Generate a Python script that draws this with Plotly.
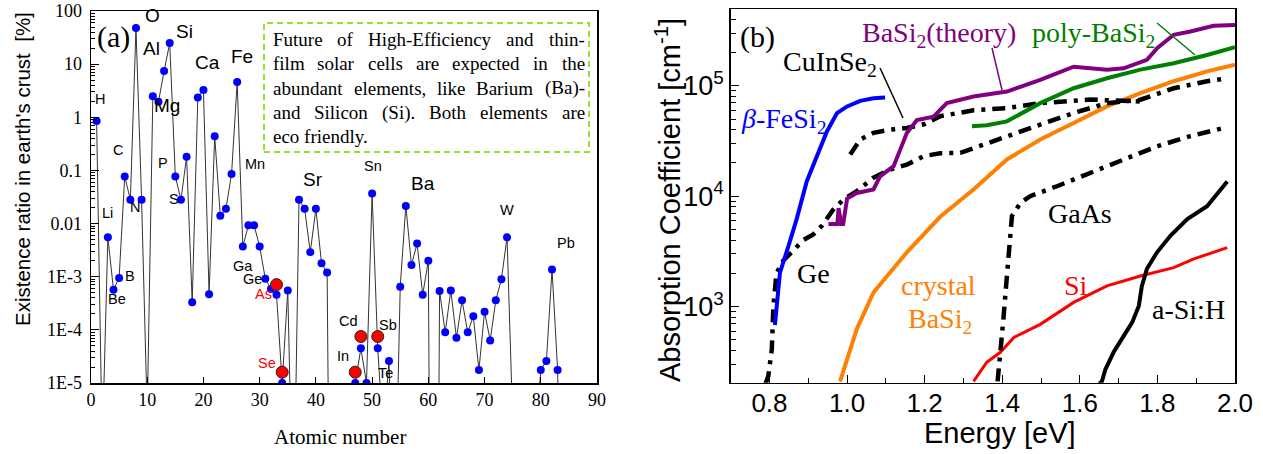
import plotly.graph_objects as go

W, H = 1263, 454
SERIF = "Liberation Serif"
SANS = "Liberation Sans"

# ---------------- Panel (a): crustal abundance ----------------
atomic_number = list(range(1, 85))
abundance = [
    0.85, 6e-7, 0.0055, 5.7e-4, 9.5e-4, 0.077, 0.028, 48, 0.028, 2.5e-6,       # 1-10
    2.5, 1.95, 7.4, 25, 0.077, 0.028, 0.18, 3.3e-4, 2.35, 3.25,                 # 11-20
    4.7e-4, 0.44, 0.014, 0.019, 0.086, 4.6, 0.0037, 0.0093, 0.0093, 0.0037,     # 21-30
    9.2e-4, 5.9e-4, 4.6e-4, 1.0e-5, 5.5e-4, 1e-8, 0.028, 0.019, 0.0029, 0.019,  # 31-40
    0.0018, 0.0012, 1e-15, 1e-7, 1e-7, 1e-6, 1.0e-5, 4.5e-5, 1.0e-5, 0.037,     # 41-50
    4.5e-5, 1e-6, 2.6e-5, 1e-8, 6.5e-4, 0.0215, 0.00166, 0.0042, 4.6e-4, 0.002, # 51-60
    1e-20, 5.4e-4, 9e-5, 5.5e-4, 7.1e-5, 3.6e-4, 9e-5, 1.8e-4, 1.76e-5, 2.2e-4, # 61-70
    6.3e-5, 3.6e-4, 9e-4, 0.0055, 2e-6, 1e-7, 1e-7, 1e-6, 5e-7, 1.76e-5,        # 71-80
    2.6e-5, 0.00136, 1.76e-5, 1e-14,                                            # 81-84
]
toxic_z = [33, 34, 47, 48, 51]
toxic_val = [7.1e-4, 1.6e-5, 1.6e-5, 7.5e-5, 7.5e-5]

# ---------------- Panel (b): absorption coefficients ----------------
fesi2_E = [0.814, 0.827, 0.849, 0.870, 0.896, 0.922, 0.948, 0.974, 1.000, 1.034, 1.068, 1.098]
fesi2_a = [680, 2030, 3550, 6200, 13600, 23000, 38600, 56600, 65000, 73000, 77000, 78500]

ge_E = [0.790, 0.797, 0.806, 0.810, 0.818, 0.835, 0.857, 0.887, 0.913, 0.935, 0.965, 0.990,
        1.025, 1.068, 1.111, 1.154, 1.197, 1.240, 1.292, 1.352, 1.430, 1.498, 1.584, 1.670,
        1.756, 1.842, 1.928, 1.980]
ge_a = [200, 235, 410, 1000, 2000, 2600, 3100, 4000, 4500, 5400, 7600, 9300,
        11100, 14700, 17400, 19300, 23000, 24500, 24700, 29300, 37500, 44500, 56700, 69600,
        74800, 95000, 110000, 117000]

cis_E = [1.008, 1.034, 1.068, 1.110, 1.154, 1.200, 1.240, 1.326, 1.412, 1.498, 1.627, 1.756]
cis_a = [23800, 32600, 37500, 40000, 41500, 45000, 53000, 60000, 62800, 69700, 75000, 72000]

gaas_E = [1.388, 1.395, 1.403, 1.410, 1.416, 1.420, 1.425, 1.447, 1.472, 1.541, 1.627, 1.713,
          1.799, 1.885, 1.971]
gaas_a = [210, 440, 770, 1550, 2700, 5000, 6600, 8700, 10000, 12300, 16200, 21500,
          28300, 35000, 41500]

asih_E = [1.650, 1.657, 1.666, 1.687, 1.708, 1.735, 1.752, 1.760, 1.773, 1.799, 1.834, 1.877,
          1.928, 1.980]
asih_a = [200, 210, 270, 385, 507, 718, 1014, 1540, 2200, 3100, 4400, 6200, 8100, 13600]

si_E = [1.326, 1.360, 1.395, 1.430, 1.498, 1.584, 1.670, 1.756, 1.842, 1.894, 1.980]
si_a = [210, 313, 385, 525, 690, 1090, 1540, 1890, 2250, 2700, 3420]

cbasi2_E = [0.982, 1.025, 1.068, 1.154, 1.240, 1.326, 1.412, 1.498, 1.584, 1.670, 1.756, 1.842,
            1.928, 2.000]
cbasi2_a = [210, 625, 1340, 3100, 6500, 11500, 21500, 32600, 46000, 65000, 86000, 110000,
            135000, 155000]

pbasi2_E = [1.322, 1.360, 1.412, 1.455, 1.498, 1.584, 1.670, 1.756, 1.842, 1.928, 2.000]
pbasi2_a = [43000, 44000, 47600, 57000, 69600, 95000, 117000, 140000, 160000, 190000, 224000]

tbasi2_E = [0.952, 0.975, 0.978, 0.985, 0.990, 1.000, 1.025, 1.068, 1.085, 1.120, 1.137, 1.154,
            1.180, 1.223, 1.257, 1.292, 1.326, 1.412, 1.498, 1.584, 1.627, 1.670, 1.713, 1.773,
            1.800, 1.842, 1.885, 1.945, 2.000]
tbasi2_a = [5600, 5600, 7800, 5600, 5600, 9500, 10700, 11500, 15100, 18700, 26400, 37300,
            49000, 52600, 69800, 74800, 80000, 88600, 113000, 149000, 145000, 140000, 144000, 172000,
            220000, 290000, 310000, 350000, 355000]

# ---------------- helpers (target-pixel -> paper) ----------------
def px(x):
    return x / W

def py(y):
    return 1 - y / H

annotations = []

def label(text, x, y, size, color="black", family=SANS, xanchor="center", angle=0):
    annotations.append(dict(text=text, x=px(x), y=py(y), xref="paper", yref="paper",
                            showarrow=False, xanchor=xanchor, yanchor="middle",
                            textangle=angle, borderpad=0, borderwidth=0,
                            font=dict(family=family, size=size, color=color)))

fig = go.Figure()

# panel (a)
fig.add_trace(go.Scatter(x=atomic_number, y=abundance, mode="lines+markers",
                         line=dict(color="#333333", width=1),
                         marker=dict(color="#0000ff", size=8, line=dict(width=0)),
                         xaxis="x", yaxis="y", showlegend=False, hoverinfo="skip"))
fig.add_trace(go.Scatter(x=toxic_z, y=toxic_val, mode="markers",
                         marker=dict(color="#ff0000", size=12, line=dict(color="#222222", width=1)),
                         xaxis="x", yaxis="y", showlegend=False, hoverinfo="skip"))

# panel (b)
DD = "13px,7px,4px,7px"
curves = [
    (cbasi2_E, cbasi2_a, "#ff8000", 4, "solid"),
    (si_E, si_a, "#ff0000", 3, "solid"),
    (asih_E, asih_a, "#000000", 4, "solid"),
    (gaas_E, gaas_a, "#000000", 4.5, DD),
    (ge_E, ge_a, "#000000", 4.5, DD),
    (cis_E, cis_a, "#000000", 4.5, DD),
    (fesi2_E, fesi2_a, "#0000ff", 4, "solid"),
    (pbasi2_E, pbasi2_a, "#008000", 4, "solid"),
    (tbasi2_E, tbasi2_a, "#800080", 4, "solid"),
]
for e, a, c, w, d in curves:
    fig.add_trace(go.Scatter(x=e, y=a, mode="lines", line=dict(color=c, width=w, dash=d),
                             xaxis="x2", yaxis="y2", showlegend=False, hoverinfo="skip"))

# ---------------- axes ----------------
minor_a = [m * 10 ** e for e in range(-5, 2) for m in range(2, 10)]
minor_b = [m * 10 ** e for e in range(2, 6) for m in range(2, 10)]
minor_bx = [0.7, 0.9, 1.1, 1.3, 1.5, 1.7, 1.9]

common = dict(showline=True, linecolor="black", linewidth=1.5, mirror=True, automargin=False,
              showgrid=False, zeroline=False, ticks="inside", tickcolor="black",
              ticklabeloverflow="allow")

fig.update_layout(
    width=W, height=H, margin=dict(l=0, r=0, t=0, b=0, pad=0, autoexpand=False),
    paper_bgcolor="white", plot_bgcolor="white", hovermode=False,
    xaxis=dict(domain=[px(91), px(597)], range=[0, 90], tickmode="array",
               tickvals=list(range(0, 91, 10)), ticklen=6, tickwidth=1,
               tickfont=dict(family=SERIF, size=18, color="black"), anchor="y", **common),
    yaxis=dict(domain=[py(383), py(11)], type="log", range=[-5, 2], tickmode="array",
               tickvals=[1e-5, 1e-4, 1e-3, 0.01, 0.1, 1, 10, 100],
               ticktext=["1E-5", "1E-4", "1E-3", "0.01", "0.1", "1", "10", "100"],
               ticklen=8, tickwidth=1, ticklabelstandoff=4,
               minor=dict(tickmode="array", tickvals=minor_a, ticks="inside", ticklen=4,
                          tickwidth=1, tickcolor="black"),
               tickfont=dict(family=SERIF, size=18, color="black"), anchor="x", **common),
    xaxis2=dict(domain=[px(730.7), px(1235)], range=[0.7, 2.0], tickmode="array",
                tickvals=[0.8, 1.0, 1.2, 1.4, 1.6, 1.8, 2.0],
                ticktext=["0.8", "1.0", "1.2", "1.4", "1.6", "1.8", "2.0"],
                ticklen=8, tickwidth=1, ticklabelstandoff=-3,
                minor=dict(tickmode="array", tickvals=minor_bx, ticks="inside", ticklen=5,
                           tickwidth=1, tickcolor="black"),
                tickfont=dict(family=SANS, size=26, color="black"), anchor="y2", **common),
    yaxis2=dict(domain=[py(382.7), py(9.3)], type="log", range=[2.31, 5.693], tickmode="array",
                tickvals=[1e3, 1e4, 1e5],
                ticktext=["10<sup>3</sup>", "10<sup>4</sup>", "10<sup>5</sup>"],
                ticklen=8, tickwidth=1,
                minor=dict(tickmode="array", tickvals=minor_b, ticks="inside", ticklen=5,
                           tickwidth=1, tickcolor="black"),
                tickfont=dict(family=SANS, size=27, color="black"), anchor="x2", **common),
)

# ---------------- labels, panel (a) ----------------
label("Existence ratio in earth's crust  [%]", 22, 169, 20.5, angle=-90)
label("Atomic number", 340, 437, 21, family=SERIF)
label("(a)", 113, 37, 30, family=SERIF)

big = [("O", 152.7, 15), ("Al", 151.7, 48), ("Si", 184.3, 31.7), ("Mg", 166.7, 105),
       ("Ca", 207, 63), ("Fe", 241.7, 56.7), ("Sr", 313.3, 179), ("Ba", 422.7, 183.3)]
for t, x, y in big:
    label(t, x, y, 19)
small = [("H", 100, 99), ("C", 118.3, 150), ("P", 163.3, 163), ("Mn", 255, 164),
         ("Sn", 373.3, 165.7), ("W", 507.3, 210), ("Pb", 565.7, 243.3), ("Li", 107.3, 213.3),
         ("N", 135, 206.7), ("S", 174, 199), ("Be", 116.7, 299.3), ("B", 130, 276),
         ("Ga", 243.3, 266), ("Ge", 252.3, 279.3), ("Cd", 348.3, 321), ("In", 343.3, 356),
         ("Sb", 387.7, 325), ("Te", 385, 372.7)]
for t, x, y in small:
    label(t, x, y, 14.5)
label("As", 263.3, 294.3, 14.5, color="#ff0000")
label("Se", 266.7, 362.7, 14.5, color="#ff0000")

# text box (justified by word placement)
box_lines = [
    (39.3, [("Future", 272.7, "left"), ("of", 345.1, "center"), ("High-Efficiency", 429.7, "center"),
            ("and", 520.0, "center"), ("thin-", 584.5, "right")]),
    (64.0, [("film", 272.7, "left"), ("solar", 336.2, "center"), ("cells", 385.3, "center"),
            ("are", 427.6, "center"), ("expected", 486.3, "center"), ("in", 540.7, "center"),
            ("the", 584.5, "right")]),
    (88.3, [("abundant", 272.7, "left"), ("elements,", 389.6, "center"), ("like", 451.1, "center"),
            ("Barium", 504.9, "center"), ("(Ba)-", 584.5, "right")]),
    (112.7, [("and", 272.7, "left"), ("Silicon", 340.9, "center"), ("(Si).", 398.4, "center"),
             ("Both", 447.5, "center"), ("elements", 513.7, "center"), ("are", 584.5, "right")]),
    (136.7, [("eco friendly.", 272.7, "left")]),
]
for y, words in box_lines:
    for t, x, anc in words:
        label(t, x, y, 19, family=SERIF, xanchor=anc)

shapes = [dict(type="rect", xref="paper", yref="paper", x0=px(264), x1=px(589), y0=py(152),
               y1=py(23), line=dict(color="#99dd33", width=2, dash="6px,4px"))]

# ---------------- labels, panel (b) ----------------
label("Absorption Coefficient [cm<sup>-1</sup>]", 668, 200, 29, angle=-90)
label("Energy [eV]", 1000, 433, 29)
label("(b)", 757, 37, 30, family=SERIF)
label("<i>β</i>-FeSi<sub>2</sub>", 783, 120, 28, color="#0000ff", family=SERIF)
label("CuInSe<sub>2</sub>", 830, 64, 28, family=SERIF)
label("BaSi<sub>2</sub>(theory)", 939, 34, 28, color="#800080", family=SERIF)
label("poly-BaSi<sub>2</sub>", 1093, 34, 28, color="#008000", family=SERIF)
label("GaAs", 1080, 213, 28, family=SERIF)
label("Ge", 813, 273, 28, family=SERIF)
label("crystal", 938, 285, 28, color="#ff8000", family=SERIF)
label("BaSi<sub>2</sub>", 940, 320, 28, color="#ff8000", family=SERIF)
label("Si", 1076, 285, 28, color="#ff0000", family=SERIF)
label("a-Si:H", 1188, 309, 28, family=SERIF)

for (x0, y0, x1, y1, c) in [(880, 68, 903, 118, "black"), (992, 48, 1002, 90, "#800080"),
                            (1157, 23, 1195, 55, "#008000")]:
    shapes.append(dict(type="line", xref="paper", yref="paper", x0=px(x0), y0=py(y0),
                       x1=px(x1), y1=py(y1), line=dict(color=c, width=1.5)))

fig.update_layout(annotations=annotations, shapes=shapes)
fig.write_html("out.html", config={"displayModeBar": False, "staticPlot": True},
               post_script="document.body.style.margin='0px';")
